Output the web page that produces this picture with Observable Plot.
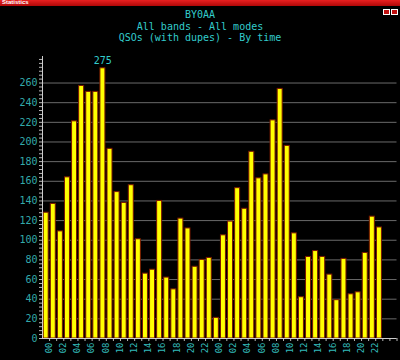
<!DOCTYPE html>
<html><head><meta charset="utf-8">
<script src="https://cdn.jsdelivr.net/npm/d3@7"></script>
<script src="https://cdn.jsdelivr.net/npm/@observablehq/plot@0.6"></script>
<style>
body{margin:0;background:#000;width:400px;height:360px;overflow:hidden;font-family:"DejaVu Sans Mono",monospace;}
#hdr{position:relative;height:44px;}
#bar{position:absolute;left:0;top:0;width:400px;height:6px;background:linear-gradient(#e82020,#b00808);}
#bar span{position:absolute;left:2px;top:-1px;font:bold 6px "Liberation Sans",sans-serif;color:#fff;line-height:7px;}
#btns{position:absolute;right:2px;top:0;height:6px;}
#btns i{display:inline-block;width:5px;height:4px;border:1px solid #fff;margin-left:1px;background:#c01010;}
.t{position:absolute;left:0;width:400px;text-align:center;color:#3cc;font-size:10px;line-height:12px;white-space:pre;}
svg{display:block;}
</style></head>
<body>
<div id="hdr">
  <div id="bar"><span>Statistics</span><div id="btns"><i></i><i></i></div></div>
  <div class="t" style="top:9px">BY0AA</div>
  <div class="t" style="top:20.5px">All bands - All modes</div>
  <div class="t" style="top:32px">QSOs (with dupes) - By time</div>
</div>
<div id="chart"></div>
<script>
const hours = ["00","01","02","03","04","05","06","07","08","09","10","11","12","13","14","15","16","17","18","19","20","21","22","23",
               "00","01","02","03","04","05","06","07","08","09","10","11","12","13","14","15","16","17","18","19","20","21","22","23"];
const qsos = [128,137,109,164,221,257,251,251,275,193,149,138,156,101,66,70,140,62,50,122,112,73,80,82,
              21,105,119,153,132,190,163,167,222,254,196,107,42,83,89,83,65,39,81,45,47,87,124,113];
const yTicks = [20,40,60,80,100,120,140,160,180,200,220,240,260];
const yLabels = [0,20,40,60,80,100,120,140,160,180,200,220,240,260];

const data = qsos.map((v, i) => ({i, v, hour: hours[i]}));
const labelData = data.filter(d => d.i % 2 === 0);
const maxVal = d3.max(qsos);
const minorY = d3.range(0, 287, 4);
const minorX = d3.range(0, 50).map(i => i + 0.5);

const chart = Plot.plot({
  width: 400, height: 316,
  marginTop: 12, marginBottom: 22, marginLeft: 42, marginRight: 3.5,
  style: {background: "#000", color: "#3aa", fontFamily: "DejaVu Sans Mono, monospace", fontSize: "10px"},
  x: {type: "linear", domain: [-0.5, 49.5], axis: null},
  y: {domain: [0, 287], axis: null},
  marks: [
    Plot.ruleY(yTicks, {stroke: "#6a6a6a", strokeWidth: 1}),
    Plot.rectY(data, {x1: d => d.i - 0.5, x2: d => d.i + 0.5, y1: 0, y2: "v", insetLeft: 1.2, insetRight: 0.9,
                      fill: "#ffff00", stroke: "#7a1800", strokeWidth: 1}),
    Plot.ruleY(minorY, {x1: -0.5, x2: -0.5, insetLeft: -3, stroke: "#bbb"}),
    Plot.ruleX(minorX, {y1: 0, y2: 0, insetBottom: -3, stroke: "#bbb"}),
    Plot.ruleX([-0.5], {y1: 0, y2: 287, stroke: "#ccc"}),
    Plot.ruleY([0], {stroke: "#ccc"}),
    Plot.text(yLabels, {x: -0.5, y: d => d, text: d => String(d), textAnchor: "end", dx: -5, fill: "#3aa", fontSize: 10}),
    Plot.text(labelData, {x: "i", y: 0, text: "hour", rotate: -90, textAnchor: "end", dx: 3, dy: 4, fill: "#3bb", fontSize: 9}),
    Plot.text(data.filter(d => d.v === maxVal), {x: "i", y: "v", text: d => String(d.v), dy: -7, fill: "#3cc", fontSize: 10})
  ]
});
document.getElementById("chart").appendChild(chart);
</script>
</body></html>
